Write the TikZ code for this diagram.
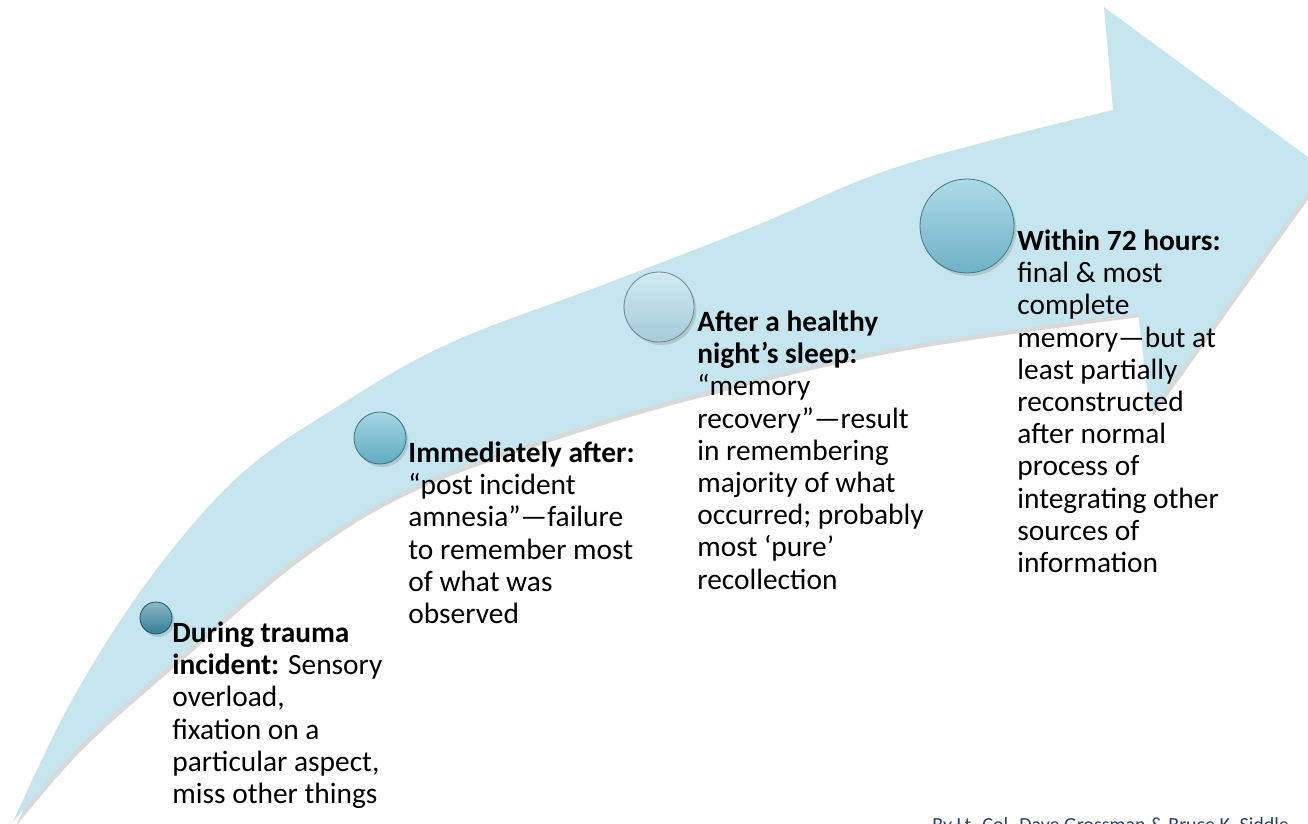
\documentclass[tikz,border=0pt]{standalone}
\usepackage{fontspec}
\setmainfont{Carlito}
\usetikzlibrary{positioning,shadows}
\definecolor{shaft}{RGB}{197,230,239}
\definecolor{tealA}{RGB}{58,138,162}
\definecolor{tealB}{RGB}{104,186,209}
\definecolor{tealC}{RGB}{178,221,234}
\definecolor{tealD}{RGB}{118,194,215}
\definecolor{credit}{RGB}{38,64,110}
\tikzset{
arrowbody/.style = {fill=shaft, drop shadow={opacity=0.3, shadow xshift=1.5pt, shadow yshift=-2pt}},
bead/.style = {circle, inner sep=0pt, draw=#1!60!black, line width=0.4pt, top color=#1!60!white, bottom color=#1!92!black, drop shadow={opacity=0.3, shadow xshift=1.2pt, shadow yshift=-1.5pt}},
stage/.style = {anchor=north west, align=left, inner sep=0pt, font=\fontsize{14.7}{16.1}\selectfont},
byline/.style = {anchor=base west, inner sep=0pt, text=credit, font=\fontsize{10}{12}\selectfont}
}
\begin{document}
\begin{tikzpicture}[x=0.5pt, y=-0.5pt]
\useasboundingbox (0,0) rectangle (1308,824);
% big curved arrow
\path[arrowbody] plot[smooth, tension=0.6] coordinates {(13,822) (72,700) (150,578) (240,475) (340,405) (450,343) (600,286) (750,228) (900,166) (1113,110)}
  -- (1104,7) -- (1324,169) -- (1150,412) -- (1138,313)
  -- plot[smooth, tension=0.6] coordinates {(1138,313) (900,347) (700,393) (550,437) (410,488) (300,555) (173,662) (80,745) (13,822)} -- cycle;
% beads
\node[bead=tealA, minimum size=16pt] (dot1) at (156,618) {};
\node[bead=tealB, minimum size=26pt] (dot2) at (380,438) {};
\node[bead=tealC, minimum size=35pt] (dot3) at (659,307) {};
\node[bead=tealD, minimum size=47pt] (dot4) at (967,226) {};
% stages (top = first baseline - strut height)
\node[stage] (during) at (172,619.5) {\strut\textbf{During trauma}\\\textbf{incident:} Sensory\\overload,\\fixation on a\\particular aspect,\\miss other things};
\node[stage] (after) at (408,439.5) {\strut\textbf{Immediately after:}\\“post incident\\amnesia”—failure\\to remember most\\of what was\\observed};
\node[stage] (sleep) at (697,308.5) {\strut\textbf{After a healthy}\\\textbf{night’s sleep:}\\“memory\\recovery”—result\\in remembering\\majority of what\\occurred; probably\\most ‘pure’\\recollection};
\node[stage] (within) at (1017,227.5) {\strut\textbf{Within 72 hours:}\\final \& most\\complete\\memory—but at\\least partially\\reconstructed\\after normal\\process of\\integrating other\\sources of\\information};
\node[byline] (by) at (932,831) {By Lt. Col. Dave Grossman \& Bruce K. Siddle};
\end{tikzpicture}
\end{document}
